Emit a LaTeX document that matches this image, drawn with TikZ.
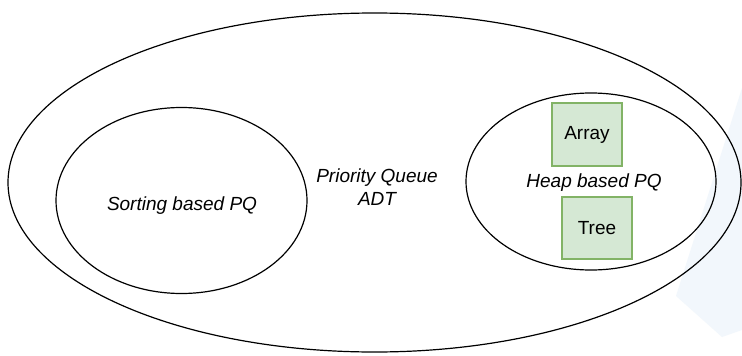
\documentclass[tikz,border=0pt]{standalone}
\usepackage{fontspec}
\setmainfont{Liberation Sans}
\usetikzlibrary{shapes.geometric}
\definecolor{boxfill}{HTML}{D5E8D4}
\definecolor{boxline}{HTML}{82B366}
\definecolor{haze}{HTML}{F2F7FC}
\tikzset{
  setring/.style={draw=black, line width=1.2pt, ellipse, inner sep=0pt},
  implbox/.style={draw=boxline, fill=boxfill, line width=1.5pt, inner sep=0pt,
    font=\fontsize{19}{23}\selectfont},
  setlabel/.style={font=\fontsize{19}{23}\selectfont\itshape, align=center, inner sep=0pt},
}
\begin{document}
\begin{tikzpicture}[x=1pt, y=-1pt]
  \useasboundingbox[fill=white] (0,0) rectangle (742,356);
  % faint backdrop shape on the right edge
  \fill[haze] (742,88) -- (742,330) -- (722,337) -- (676,296) -- cycle;

  % the ADT and its two families of implementations
  \node[setring, minimum width=733pt, minimum height=339pt] (adt) at (374.5,182.5) {};
  \node[setring, minimum width=251pt, minimum height=186pt] (sorting) at (181.5,200.5) {};
  \node[setring, minimum width=250pt, minimum height=177pt] (heap) at (591,181.5) {};

  \node[setlabel, anchor=base] (adtlabel) at (377,205) {Priority Queue\\ADT};
  \node[setlabel, anchor=base] (sortlabel) at (182,210) {Sorting based PQ};
  \node[setlabel, anchor=base] (heaplabel) at (594,187.5) {Heap based PQ};

  % concrete heap representations
  \node[implbox, minimum width=70pt, minimum height=63pt] (array) at (587,134.5) {Array};
  \node[implbox, minimum width=70pt, minimum height=62pt] (tree) at (597,228) {Tree};
\end{tikzpicture}
\end{document}
